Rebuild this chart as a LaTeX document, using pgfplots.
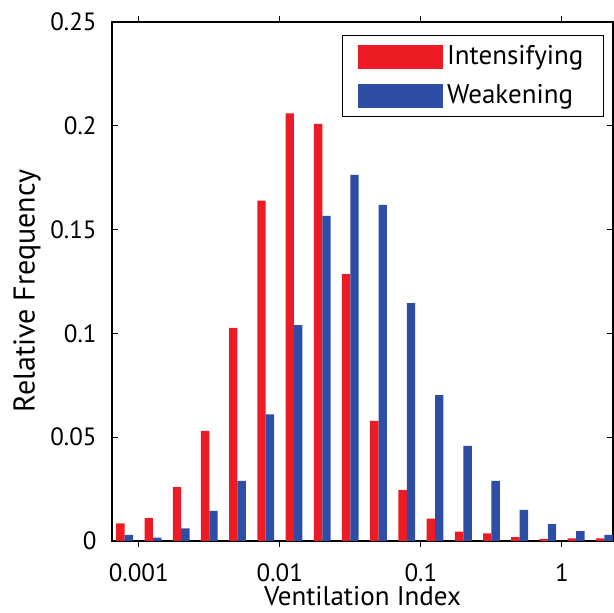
\documentclass[border=0pt]{standalone}
\usepackage{fontspec}
\setmainfont{PT Sans}
\usepackage{pgfplots}
\pgfplotsset{compat=1.18}
\definecolor{intens}{RGB}{237,28,36}
\definecolor{weak}{RGB}{46,78,165}

\begin{document}
\begin{tikzpicture}
  \begin{axis}[
    scale only axis, width=250.5pt, height=259.5pt,
    xmode=log, log basis x=10,
    xmin=0.000646, xmax=2.3, ymin=0, ymax=0.25,
    xtick={0.001,0.01,0.1,1}, xticklabels={0.001,0.01,0.1,1},
    ytick={0,0.05,0.1,0.15,0.2,0.25}, yticklabels={0,0.05,0.1,0.15,0.2,0.25},
    tick align=inside, major tick length=3pt, minor tick length=2pt,
    tick style={black, line width=0.5pt},
    axis line style={black, line width=0.6pt},
    ticklabel style={font=\fontsize{12.5}{14}\selectfont},
    yticklabel style={inner sep=0pt, xshift=-7.5pt},
    xticklabel style={inner sep=0pt, yshift=-8pt},
    xlabel={Ventilation Index}, ylabel={Relative Frequency},
    xlabel style={font=\fontsize{13.5}{15}\selectfont, at={(axis description cs:0.5,0)}, anchor=north, yshift=-22.5pt, inner sep=0pt},
    ylabel style={font=\fontsize{15}{17}\selectfont, at={(axis description cs:-0.1976,0.482)}, anchor=north, inner sep=0pt},
    ybar, bar width=4.2pt,
    legend style={at={(0.982,0.975)}, anchor=north east, draw=black, line width=0.6pt,
      font=\fontsize{13.5}{15}\selectfont, inner xsep=8pt, inner ysep=3pt,
      row sep=4.5pt, cells={anchor=west}},
    legend image code/.code={\fill[#1] (0pt,-6pt) rectangle (42.5pt,6pt);},
  ]
    % Intensifying
    \addplot[fill=intens, draw=none, bar shift=-2.1pt] coordinates {
      (0.000794,0.0085) (0.00126,0.011) (0.002,0.026) (0.00316,0.053)
      (0.00501,0.1026) (0.00794,0.164) (0.0126,0.206) (0.02,0.2009)
      (0.0316,0.1286) (0.0501,0.0578) (0.0794,0.0245) (0.126,0.0108)
      (0.2,0.0045) (0.316,0.0037) (0.501,0.0019) (0.794,0.001)
      (1.26,0.0013) (2.0,0.0013)
    };
    \addlegendentry{Intensifying}
    % Weakening
    \addplot[fill=weak, draw=none, bar shift=2.1pt] coordinates {
      (0.000794,0.003) (0.00126,0.0016) (0.002,0.0061) (0.00316,0.0145)
      (0.00501,0.029) (0.00794,0.061) (0.0126,0.104) (0.02,0.1566)
      (0.0316,0.1763) (0.0501,0.1619) (0.0794,0.1146) (0.126,0.0703)
      (0.2,0.0458) (0.316,0.0289) (0.501,0.015) (0.794,0.0081)
      (1.26,0.0048) (2.0,0.0029)
    };
    \addlegendentry{Weakening}
    \coordinate (sw) at (rel axis cs:0,0);
    \coordinate (ne) at (rel axis cs:1,1);
  \end{axis}
  \pgfresetboundingbox
  \path[use as bounding box] ([xshift=-56pt,yshift=-36pt]sw) rectangle ([xshift=0.5pt,yshift=11pt]ne);
\end{tikzpicture}
\end{document}
